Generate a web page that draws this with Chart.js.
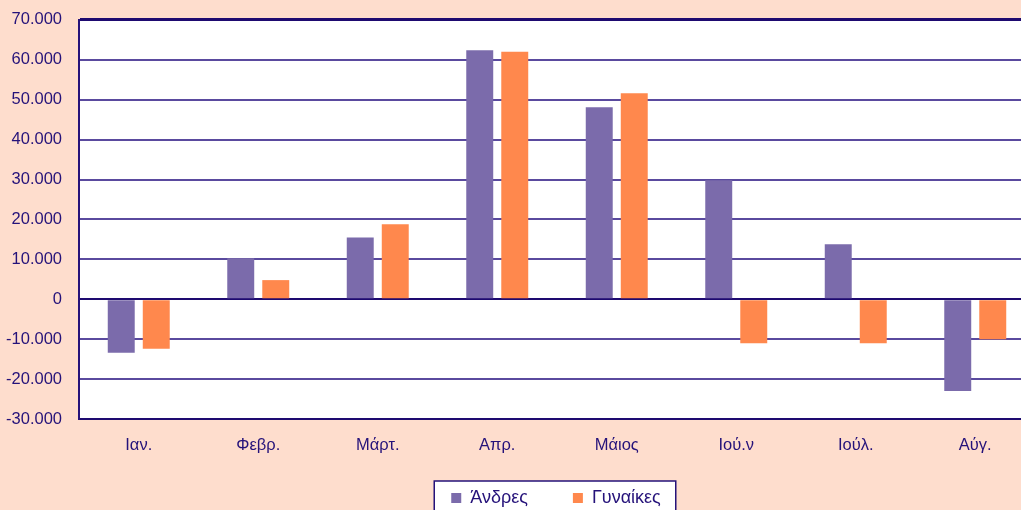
<!DOCTYPE html>
<html>
<head>
<meta charset="utf-8">
<script src="https://cdn.jsdelivr.net/npm/chart.js@4/dist/chart.umd.min.js"></script>
<style>
  html, body { margin: 0; padding: 0; background: #FEDDCD; overflow: hidden; }
  #wrap { width: 1112px; height: 543px; margin-top: -7px; position: relative; }
</style>
</head>
<body>
<div id="wrap"><canvas id="c"></canvas></div>
<script>
// months (x axis)
const months = ['Ιαν.', 'Φεβρ.', 'Μάρτ.', 'Απρ.', 'Μάιος', 'Ιού.ν', 'Ιούλ.', 'Αύγ.'];

// series
const men   = [-13400, 10300, 15500, 62400, 48100, 29800, 13800, -23000];
const women = [-12400,  4800, 18800, 62000, 51600, -11000, -11000, -10000];

// y axis range
const yMin = -30000;
const yMax = 70000;
const yStep = 10000;

const navy = '#25127A';
const font = 'Liberation Sans, Arial, sans-serif';

function fmt(v) {
  const s = Math.abs(v).toString().replace(/\B(?=(\d{3})+(?!\d))/g, '.');
  return (v < 0 ? '-' : '') + s;
}

// pull the legend up a bit and centre it on the whole canvas
const legendShift = {
  id: 'legendShift',
  afterLayout(chart) {
    const lg = chart.legend;
    if (!lg) return;
    lg.top -= 19;
    lg.bottom -= 19;
    lg.right += 77;
  }
};

// box around the legend
const legendBox = {
  id: 'legendBox',
  beforeDraw(chart) {
    const lg = chart.legend;
    if (!lg || !lg.legendHitBoxes.length) return;
    const c = chart.ctx;
    const items = lg.legendHitBoxes;
    const first = items[0], last = items[items.length - 1];
    const x0 = first.left - 17, x1 = last.left + last.width + 15;
    const y0 = first.top - 8;
    c.save();
    c.fillStyle = '#ffffff';
    c.fillRect(x0, y0, x1 - x0, 44);
    c.strokeStyle = navy;
    c.lineWidth = 1.5;
    c.strokeRect(x0, y0, x1 - x0, 44);
    c.restore();
  }
};

// white plot background
const plotBg = {
  id: 'plotBg',
  beforeDraw(chart) {
    const a = chart.chartArea;
    chart.ctx.save();
    chart.ctx.fillStyle = '#ffffff';
    chart.ctx.fillRect(a.left, a.top, a.right - a.left, a.bottom - a.top);
    chart.ctx.restore();
  }
};

new Chart(document.getElementById('c'), {
  type: 'bar',
  data: {
    labels: months,
    datasets: [
      { label: 'Άνδρες', data: men, backgroundColor: '#7B6BAB' },
      { label: 'Γυναίκες', data: women, backgroundColor: '#FF884D' }
    ]
  },
  options: {
    responsive: true,
    maintainAspectRatio: false,
    animation: false,
    categoryPercentage: 0.586,
    barPercentage: 0.77,
    layout: { autoPadding: false, padding: { top: 12, right: 77, left: 0, bottom: 0 } },
    plugins: {
      tooltip: { enabled: false },
      legend: {
        position: 'bottom',
        labels: {
          color: navy,
          font: { family: font, size: 18 },
          boxWidth: 10,
          boxHeight: 10,
          padding: 45
        }
      }
    },
    scales: {
      x: {
        grid: { display: false, drawTicks: false },
        border: { display: false },
        ticks: {
          color: navy,
          padding: 17,
          maxRotation: 0,
          font: { family: font, size: 16.5 }
        },
        afterFit(s) { s.height = 44; }
      },
      y: {
        min: yMin,
        max: yMax,
        border: { display: true, color: navy, width: 2 },
        grid: {
          drawTicks: false,
          color: ctx => (ctx.tick && (ctx.tick.value === 0 || ctx.tick.value === yMin || ctx.tick.value === yMax)) ? '#1E0A70' : '#5A4A9E',
          lineWidth: ctx => (ctx.tick && ctx.tick.value === yMax) ? 3 : 2
        },
        ticks: {
          stepSize: yStep,
          color: navy,
          padding: 17,
          font: { family: font, size: 16.5 },
          callback: v => fmt(v)
        },
        afterFit(s) { s.width = 79; }
      }
    }
  },
  plugins: [legendShift, plotBg, legendBox]
});
</script>
</body>
</html>
